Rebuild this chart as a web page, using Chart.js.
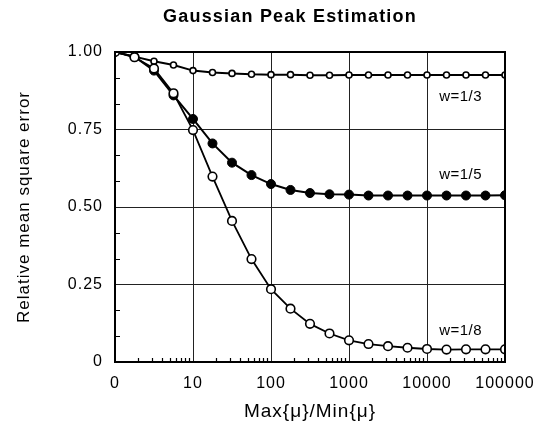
<!DOCTYPE html>
<html>
<head>
<meta charset="utf-8">
<script src="https://cdn.jsdelivr.net/npm/chart.js@4.4.1/dist/chart.umd.min.js"></script>
<style>
  html, body { margin: 0; padding: 0; background: #fff; }
  #wrap { width: 549px; height: 430px; }
</style>
</head>
<body>
<div id="wrap"><canvas id="chart" width="549" height="430"></canvas></div>
<script>
// --- data ---
const xRatio = [1, 1.778, 3.162, 5.623, 10, 17.78, 31.62, 56.23, 100, 177.8, 316.2, 562.3,
                1000, 1778, 3162, 5623, 10000, 17783, 31623, 56234, 100000];
const w3 = [1.0, 0.985, 0.970, 0.958, 0.940, 0.934, 0.931, 0.928, 0.927, 0.927, 0.925,
            0.925, 0.926, 0.926, 0.926, 0.926, 0.926, 0.926, 0.926, 0.926, 0.926];
const w5 = [1.0, 0.985, 0.940, 0.860, 0.784, 0.705, 0.643, 0.603, 0.574, 0.555, 0.545,
            0.541, 0.540, 0.537, 0.537, 0.537, 0.537, 0.537, 0.537, 0.537, 0.538];
const w8 = [1.0, 0.983, 0.947, 0.867, 0.748, 0.598, 0.455, 0.332, 0.235, 0.172, 0.123,
            0.092, 0.070, 0.058, 0.051, 0.046, 0.042, 0.040, 0.041, 0.041, 0.041];

const xTickValues = [1, 10, 100, 1000, 10000, 100000];
const xTickLabels = ['0', '10', '100', '1000', '10000', '100000'];
const yTickLabels = { 0: '0', 0.25: '0.25', 0.5: '0.50', 0.75: '0.75', 1: '1.00' };

const curveNames = ['w=1/3', 'w=1/5', 'w=1/8'];
const curveNameX = [27000, 27000, 27000];
const curveNameY = [0.855, 0.603, 0.100];

const FONT = '"Liberation Sans", Arial, Helvetica, sans-serif';

const pts = ys => ys.map((y, i) => ({ x: xRatio[i], y }));

// frame, minor ticks, title and curve labels
const overlay = {
  id: 'overlay',
  beforeDraw(chart) {
    chart.ctx.letterSpacing = '1px';
  },
  beforeDatasetsDraw(chart) {
    const { ctx, chartArea: a, scales } = chart;
    ctx.save();
    ctx.strokeStyle = '#000';
    ctx.lineWidth = 1.2;
    ctx.beginPath();
    for (let dec = 1; dec < 100000; dec *= 10) {
      for (let k = 2; k <= 9; k++) {
        const px = Math.round(scales.x.getPixelForValue(k * dec)) + 0.5;
        ctx.moveTo(px, a.bottom);
        ctx.lineTo(px, a.bottom - 4);
      }
    }
    for (let i = 1; i < 12; i++) {
      if (i % 3 === 0) continue;
      const py = Math.round(scales.y.getPixelForValue(i / 12)) + 0.5;
      ctx.moveTo(a.left, py);
      ctx.lineTo(a.left + 5, py);
    }
    ctx.stroke();
    ctx.restore();
  },
  afterDatasetsDraw(chart) {
    const { ctx, chartArea: a } = chart;
    ctx.save();
    ctx.strokeStyle = '#000';
    ctx.lineWidth = 2;
    ctx.strokeRect(a.left, a.top, a.right - a.left, a.bottom - a.top);
    ctx.restore();
  },
  afterDraw(chart) {
    const { ctx, scales } = chart;
    ctx.save();
    ctx.fillStyle = '#000';
    ctx.textAlign = 'center';
    ctx.textBaseline = 'middle';
    ctx.letterSpacing = '1.2px';
    ctx.font = 'bold 18px ' + FONT;
    ctx.fillText('Gaussian Peak Estimation', 290, 17);
    ctx.letterSpacing = '0.5px';
    ctx.font = '15px ' + FONT;
    curveNames.forEach((t, i) => {
      ctx.fillText(t, scales.x.getPixelForValue(curveNameX[i]), scales.y.getPixelForValue(curveNameY[i]));
    });
    ctx.restore();
  }
};

new Chart(document.getElementById('chart'), {
  type: 'line',
  data: {
    datasets: [
      { label: 'w=1/8', data: pts(w8), borderColor: '#000', borderWidth: 1.8,
        pointRadius: 4.3, pointBackgroundColor: '#fff', pointBorderColor: '#000', pointBorderWidth: 1.6 },
      { label: 'w=1/5', data: pts(w5), borderColor: '#000', borderWidth: 2,
        pointRadius: 4.5, pointBackgroundColor: '#000', pointBorderColor: '#000', pointBorderWidth: 1 },
      { label: 'w=1/3', data: pts(w3), borderColor: '#000', borderWidth: 2,
        pointRadius: 3, pointBackgroundColor: '#fff', pointBorderColor: '#000', pointBorderWidth: 1.6 }
    ]
  },
  options: {
    responsive: false,
    animation: false,
    events: [],
    layout: { padding: { top: 52, right: 44, left: 0, bottom: 0 } },
    elements: { line: { tension: 0 } },
    datasets: { line: { clip: 1 } },
    plugins: { legend: { display: false }, tooltip: { enabled: false }, title: { display: false } },
    scales: {
      x: {
        type: 'logarithmic', min: 1, max: 100000,
        afterBuildTicks: s => { s.ticks = xTickValues.map(v => ({ value: v })); },
        afterFit: s => { s.height = 68; },
        ticks: {
          callback: (v, i) => xTickLabels[i],
          autoSkip: false, maxRotation: 0, padding: 12, color: '#000',
          font: { family: FONT, size: 16 }
        },
        grid: { color: '#222', lineWidth: 1, drawTicks: false },
        border: { display: false },
        title: { display: true, text: 'Max{μ}/Min{μ}', color: '#000',
                 font: { family: FONT, size: 19 }, padding: { top: 0, bottom: 7 } }
      },
      y: {
        min: 0, max: 1,
        afterFit: s => { s.width = 115; },
        ticks: {
          stepSize: 0.25, padding: 12, color: '#000',
          callback: v => yTickLabels[v],
          font: { family: FONT, size: 16 }
        },
        grid: { color: '#222', lineWidth: 1, drawTicks: false },
        border: { display: false },
        title: { display: true, text: 'Relative mean square error', color: '#000',
                 font: { family: FONT, size: 17 }, padding: { top: 14, bottom: 0 } }
      }
    }
  },
  plugins: [overlay]
});
</script>
</body>
</html>
